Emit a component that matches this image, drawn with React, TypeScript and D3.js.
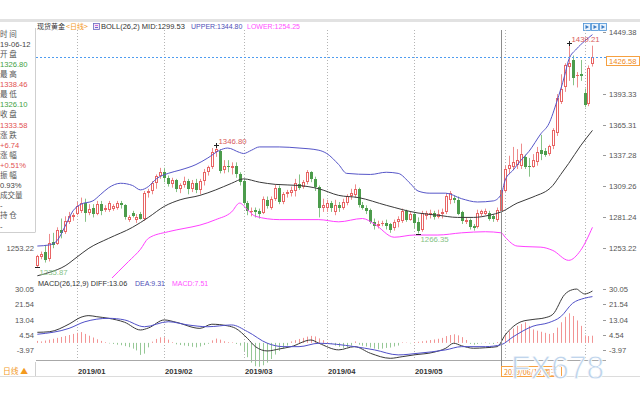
import React from "react";
import * as d3 from "d3";

// ---- candle data (index 0 = 2018-12-17 ... 140 = 2019-07-03) ----
const open = [
  1237, 1245.5, 1250, 1243, 1259, 1257, 1270, 1268, 1277, 1281,
  1284, 1287, 1294, 1285, 1290, 1284, 1293, 1288, 1288, 1289,
  1290, 1294, 1292, 1279, 1285, 1279, 1284, 1280, 1303, 1305,
  1312, 1319, 1322, 1317, 1311, 1315, 1307, 1310, 1314, 1307,
  1312, 1306, 1314, 1322, 1327, 1340, 1341, 1324, 1328, 1326,
  1328, 1320, 1314, 1294, 1286, 1288, 1287, 1285, 1297, 1290,
  1298, 1308, 1295, 1302, 1303, 1305, 1311, 1309, 1313, 1322,
  1316, 1309, 1290, 1290, 1294, 1286, 1292, 1290, 1294, 1300,
  1301, 1307, 1292, 1290, 1288, 1277, 1273, 1275, 1276, 1275,
  1271, 1277, 1278, 1287, 1279, 1284, 1277, 1270, 1282, 1283,
  1285, 1281, 1284, 1286, 1297, 1299, 1297, 1286, 1277, 1279,
  1273, 1272, 1284, 1284, 1285, 1282, 1279, 1287, 1305, 1325,
  1327, 1329, 1328, 1336, 1327.5, 1326.8, 1331, 1342, 1341, 1339,
  1346, 1358, 1386, 1399, 1418, 1424, 1409, 1411, 1394, 1384, 1420,
];
const high = [
  1247, 1250, 1256, 1266, 1267, 1272, 1280, 1282, 1286, 1285,
  1295, 1299, 1298, 1293, 1293, 1296, 1296, 1292, 1296, 1293,
  1296, 1296, 1293, 1283, 1287, 1284, 1286, 1305, 1307, 1314,
  1320, 1326, 1326, 1319, 1317, 1316, 1312, 1318, 1316, 1315,
  1316, 1316, 1325, 1328, 1344, 1346.8, 1343, 1333, 1333, 1331,
  1331, 1322, 1316, 1296, 1290, 1290, 1289, 1300, 1300, 1300,
  1311, 1310, 1304, 1306, 1309, 1316, 1320, 1315, 1324, 1323,
  1318, 1310, 1298, 1297, 1296, 1297, 1295, 1298, 1302, 1307,
  1311, 1308, 1295, 1292, 1289, 1280, 1278, 1278, 1279, 1276,
  1279, 1282, 1289, 1288, 1286, 1286, 1281, 1287, 1287, 1288,
  1287, 1288, 1289, 1303, 1305, 1301, 1300, 1287, 1281, 1280,
  1275, 1288, 1288, 1289, 1287, 1284, 1290, 1308, 1328, 1337,
  1345, 1343, 1348, 1338, 1335, 1338.46, 1345, 1356, 1344, 1347,
  1362, 1393, 1411, 1421, 1439.21, 1428, 1413, 1424, 1398, 1419, 1437,
];
const low = [
  1235.87, 1243, 1240, 1241, 1253, 1256, 1262, 1266, 1275, 1278,
  1283, 1285, 1277, 1283, 1281, 1283, 1283, 1286, 1286, 1287,
  1288, 1289, 1279, 1277, 1281, 1276, 1279, 1278, 1299, 1302,
  1307, 1316, 1313, 1309, 1308, 1304, 1303, 1308, 1302, 1304,
  1303, 1302, 1310, 1319, 1325, 1336, 1321, 1321, 1322, 1320,
  1317, 1310, 1292, 1283, 1282, 1281, 1280, 1284, 1289, 1288,
  1296, 1293, 1293, 1299, 1300, 1300, 1306, 1307, 1311, 1313,
  1305, 1281, 1286, 1286, 1286, 1283, 1286, 1288, 1292, 1297,
  1299, 1290, 1288, 1284, 1275, 1270, 1271, 1273, 1270, 1267,
  1269, 1272, 1276, 1277, 1278, 1271, 1266.35, 1268, 1279, 1280,
  1279, 1280, 1280, 1284, 1293, 1294, 1283, 1275, 1275, 1270,
  1269, 1271, 1282, 1283, 1278, 1277, 1277, 1284, 1304, 1320,
  1324, 1325, 1325, 1325, 1318, 1326.1, 1328, 1333, 1336, 1337,
  1343, 1355, 1384, 1395, 1405, 1401, 1399, 1405, 1381, 1382, 1418,
];
const close = [
  1246, 1248, 1242, 1258, 1256, 1270, 1267, 1278, 1282, 1283,
  1291, 1294, 1285, 1289, 1284, 1293, 1287, 1290, 1294, 1291,
  1294, 1292, 1281, 1281, 1282, 1281, 1280, 1303, 1305, 1312,
  1319, 1322, 1317, 1311, 1315, 1307, 1310, 1314, 1307, 1312,
  1306, 1314, 1322, 1327, 1340, 1343, 1323, 1328, 1327, 1328,
  1320, 1313, 1294, 1287, 1287, 1286, 1284, 1298, 1291, 1298,
  1308, 1295, 1302, 1304, 1306, 1312, 1308, 1313, 1322, 1316,
  1309, 1290, 1292, 1294, 1290, 1292, 1290, 1295, 1300, 1303,
  1307, 1292, 1290, 1287, 1277, 1273, 1275, 1276, 1273, 1270,
  1277, 1280, 1287, 1279, 1284, 1276, 1269, 1285, 1285, 1285,
  1281, 1284, 1286, 1300, 1303, 1297, 1284, 1278, 1279, 1272,
  1271, 1285, 1287, 1287, 1280, 1280, 1288, 1306, 1325, 1329,
  1331, 1333, 1339, 1327, 1326.8, 1333.58, 1340, 1339, 1338, 1346,
  1360, 1389, 1398, 1419, 1421, 1408, 1410, 1409, 1383, 1417, 1426.58,
];

// ---- BOLL(26,2) ----
const upperIdx = [0,3,5,7,9,11,14,16,18,21,24,26,28,30,33,36,40,43,46,48,51,52,54,56,61,66,71,73,76,78,84,88,91,94,96,99,103,107,111,115,117,118,120,122,124,127,129,131,133,134,136,138,140];
const upperVal = [1255,1256,1260,1273,1287,1293,1296,1302,1308,1312,1310,1306,1309,1316,1321,1324,1329,1335,1342,1344,1340,1339,1342,1345,1345,1344,1342,1339,1329,1321,1320,1322,1321,1312,1305,1303,1303,1298,1295,1296,1302,1315,1324,1333,1341,1357,1366,1386,1410,1424,1434,1441,1447];
const midIdx = [0,3,7,10,13,18,24,28,32,36,41,45,49,52,56,60,66,71,76,81,88,96,101,106,110,114,117,121,125,130,132,134,137,140];
const midVal = [1228,1231,1237,1245,1253,1262,1272,1281,1291,1297,1301,1306,1312,1316,1313,1311,1310,1307,1301,1299,1292,1285,1283,1281,1281,1283,1286,1294,1299.53,1310,1320,1330,1346,1360];
const lowerIdx = [0,8,14,18,23,26,28,33,37,41,45,49,51,53,55,61,71,76,82,85,90,95,101,107,113,117,118,121,125,127,130,134,137,140];
const lowerVal = [1201,1199,1208,1223,1241,1252,1262,1268,1271,1274,1279,1286,1294,1288,1282,1279,1279,1277,1280,1275,1263,1265,1265,1267,1268,1267,1263,1255,1254.25,1254,1251,1242,1251,1272];

// ---- MACD(26,12,9) ----
const diffIdx = [0,3,8,11,13,15,18,22,26,28,32,35,41,44,48,50,53,55,58,61,64,69,71,76,80,84,89,92,95,100,103,105,107,110,113,116,118,122,125,128,130,133,134,136,137,138,140];
const diffVal = [5.9,6.2,10.5,14.3,15.2,14.6,13.7,11.5,7.2,8.3,12.8,11.5,8.1,10.4,9.5,8.1,2.5,-2.1,-4.5,-3.4,-2.1,1.6,-0.2,-3.9,-2.1,-5.8,-8.6,-7.7,-6.7,-5.2,-3.0,-0.2,-1.6,-3.0,-2.7,-2.1,4.4,11.8,13.06,14.0,15.9,27.0,28.8,30.0,28.5,27.3,28.9];
const deaIdx = [0,8,12,18,22,27,33,38,43,49,53,58,62,66,71,80,85,91,96,103,107,113,117,120,125,129,132,135,138,140];
const deaVal = [4.8,8.1,11.8,13.7,12.8,9.0,11.8,10.0,9.0,10.0,6.3,-0.2,-2.1,-2.1,-0.2,-2.1,-3.9,-6.7,-5.8,-3.9,-2.1,-2.1,-1.0,3.4,9.31,11.3,14.6,22.1,24.9,25.8];
const macdHist = [
  1.1, 0.8, 1.3, 1.8, 2.3, 2.8, 3.3, 3.8, 4.4, 5.0,
  5.6, 6.0, 5.0, 4.0, 3.0, 2.0, 1.1, 0.4, -0.3, -0.6,
  -1.0, -1.3, -1.8, -2.4, -3.2, -4.2, -6.7, -6.0, -2.5, 0.7,
  2.2, 3.1, 3.1, 1.8, 0.4, -0.8, -1.2, -1.5, -1.8, -2.2,
  -2.5, -2.0, -1.2, -0.5, 1.4, 2.4, 1.8, 0.9, 0.4, 0.3,
  -0.6, -1.5, -4.5, -8.0, -11.0, -13.0, -13.3, -12.5, -11.0, -9.0,
  -6.5, -4.5, -3.0, -1.5, 0.8, 1.5, 2.2, 2.8, 3.5, 3.9,
  3.6, 2.5, 1.5, 0.5, -0.5, -1.5, -2.2, -2.8, -2.5, -1.5,
  0.8, -1.0, -1.6, -2.0, -2.6, -3.2, -3.5, -3.2, -2.8, -2.6,
  -2.0, -1.5, 0.3, 0.2, -0.3, 0.4, 0.6, 0.9, 1.2, 1.6,
  1.9, 2.3, 2.8, 3.8, 4.4, 4.8, 4.2, 3.2, 1.6, -0.6,
  -1.0, -0.6, -0.3, 0.3, -0.4, -0.6, 0.5, 1.8, 4.2, 6.5,
  8.0, 9.5, 10.5, 11.5, 9.5, 7.51, 6.8, 6.2, 5.6, 5.0,
  5.5, 8.5, 11.5, 14.5, 16.5, 15.0, 12.5, 9.5, 4.2, 3.8, 4.0,
];

// ---- axes / labels ----
const priceTicks = ["1449.38", "1393.33", "1365.31", "1337.28", "1309.26", "1281.24", "1253.22"];
const priceDomain = [1253.22, 1449.38];
const macdTicks = ["30.05", "21.54", "13.04", "4.54", "-3.97"];
const macdDomain = [-3.97, 30.05];
const monthIdx = [10, 32, 52, 73, 95, 118, 138];
const monthLabels = ["2019/01", "2019/02", "2019/03", "2019/04", "2019/05", "", ""];
const crossIdx = 117;
const lastPrice = 1426.58;
const infoNames = ["时 间", "开 盘", "最 高", "最 低", "收 盘", "涨 跌", "涨 幅", "振 幅", "成交量", "持 仓"];
const infoValues = ["19-06-12", "1326.80", "1338.46", "1326.10", "1333.58", "+6.74", "+0.51%", "0.93%", "-", "-"];
const infoColors = ["#444", "#3f9f3f", "#e25050", "#3f9f3f", "#e25050", "#e25050", "#e25050", "#444", "#444", "#444"];
const markIdx = [45, 134, 0, 96];
const markVal = [1346.8, 1439.21, 1235.87, 1266.35];
const markText = ["1346.80", "1439.21", "1235.87", "1266.35"];
const markIsHigh = [true, true, false, false];

const UP = "#e86464";
const UPWICK = "#ee8c8c";
const DN = "#4c9c4c";
const DNWICK = "#86c286";
const NUMFONT = "'Liberation Sans', Arial, sans-serif";
const CJK = "'Noto Sans CJK SC', sans-serif";

export default function App() {
  const xs = d3.scaleLinear().domain([0, 140]).range([37.35, 592.45]);
  const yP = d3.scaleLinear().domain(priceDomain).range([248, 32]);
  const yM = d3.scaleLinear().domain(macdDomain).range([350, 289]);
  const cx = (i: number) => Math.round(xs(i));

  const mkLine = (idx: number[], vals: number[], ys: d3.ScaleLinear<number, number>) =>
    d3
      .line<number>()
      .x((_, k) => xs(idx[k]))
      .y((v) => ys(v))
      .curve(d3.curveMonotoneX)(vals) || "";

  const candles = open.map((o, i) => {
    const c = close[i];
    const up = c >= o;
    const px = cx(i);
    const top = Math.round(yP(Math.max(o, c)));
    const bot = Math.round(yP(Math.min(o, c)));
    const hy = yP(high[i]);
    const ly = yP(low[i]);
    const h = Math.max(1, bot - top);
    return (
      <g key={i}>
        <line x1={px + 0.5} x2={px + 0.5} y1={hy} y2={ly} stroke={up ? UPWICK : DNWICK} strokeWidth={1} />
        {up ? (
          <rect x={px - 0.5} y={top + 0.5} width={2} height={Math.max(0.01, h - 1)} fill="#fff" stroke={UP} strokeWidth={1} />
        ) : (
          <rect x={px - 1} y={top} width={3} height={h} fill={DN} />
        )}
      </g>
    );
  });

  const zeroY = yM(0);
  const bars = macdHist.map((v, i) => {
    const px = cx(i) + 0.5;
    return <line key={i} x1={px} x2={px} y1={zeroY} y2={yM(v)} stroke={v >= 0 ? "#f29494" : "#96c896"} strokeWidth={1} />;
  });

  const lastY = yP(lastPrice);
  const crossX = Math.round(xs(crossIdx)) + 0.5;

  return (
    <svg width={640} height={400} style={{ position: "absolute", left: 0, top: 0, background: "#fff" }}>
      <defs>
        <clipPath id="mainClip">
          <rect x={36} y={30} width={568} height={248} />
        </clipPath>
        <clipPath id="macdClip">
          <rect x={36} y={287} width={568} height={82} />
        </clipPath>
      </defs>
      <rect x={0} y={0} width={640} height={400} fill="#fff" />
      {/* top band */}
      <rect x={0} y={19} width={640} height={3} fill="#e2e2e2" />

      {/* header */}
      <text x={37} y={29} fontFamily={CJK} fontSize={7} fill="#333">现货黄金</text>
      <text x={66} y={29} fontFamily={CJK} fontSize={7} fill="#f39a1e">&lt;日线&gt;</text>
      <rect x={93.5} y={23.5} width={6} height={6} fill="#f4e6f4" stroke="#6a6ac0" strokeWidth={0.8} />
      <line x1={95} x2={98} y1={25.5} y2={25.5} stroke="#d04ad0" strokeWidth={0.8} />
      <line x1={95} x2={98} y1={27.5} y2={27.5} stroke="#4a4ad0" strokeWidth={0.8} />
      <text x={101} y={29} fontFamily={NUMFONT} fontSize={7.5} fill="#333">BOLL(26,2) MID:1299.53</text>
      <text x={191} y={29} fontFamily={NUMFONT} fontSize={7} fill="#5050b8">UPPER:1344.80</text>
      <text x={247} y={29} fontFamily={NUMFONT} fontSize={7} fill="#ff50ff">LOWER:1254.25</text>

      {/* top-right icons */}
      {[0, 1, 2].map((k) => (
        <g key={k}>
          <rect x={583.5 + k * 8} y={23.5} width={7} height={7} fill="#e8f2fc" stroke="#4a92d6" strokeWidth={0.8} />
          <path d={`M${585.5 + k * 8},25 L${589 + k * 8},27 L${585.5 + k * 8},29 Z`} fill="#3a7cc4" />
        </g>
      ))}

      {/* info panel */}
      <line x1={35.5} x2={35.5} y1={28} y2={232} stroke="#cfcfcf" />
      <line x1={0} x2={35.5} y1={232.5} y2={232.5} stroke="#cfcfcf" />
      {infoNames.map((n, k) => (
        <g key={k}>
          <text x={0} y={36.5 + k * 20.2} fontFamily={CJK} fontSize={7.5} fill="#555">{n}</text>
          <text x={0} y={46.8 + k * 20.2} fontFamily={NUMFONT} fontSize={7.6} fill={infoColors[k]}>{infoValues[k]}</text>
        </g>
      ))}

      {/* vertical month grid */}
      {monthIdx.map((m, k) => {
        const gx = Math.round(xs(m)) + 0.5;
        return <line key={k} x1={gx} x2={gx} y1={30} y2={362} stroke="#b4b4b4" strokeDasharray="1,2" />;
      })}

      {/* main panel */}
      <g clipPath="url(#mainClip)">
        {candles}
        <path d={mkLine(upperIdx, upperVal, yP)} fill="none" stroke="#5656c8" strokeWidth={1} />
        <path d={mkLine(midIdx, midVal, yP)} fill="none" stroke="#3a3a3a" strokeWidth={1} />
        <path d={mkLine(lowerIdx, lowerVal, yP)} fill="none" stroke="#ff40ff" strokeWidth={1} />
      </g>
      {/* high / low marks */}
      {markIdx.map((m, k) => {
        const px = cx(m) + 0.5;
        const py = Math.round(yP(markVal[k])) + 0.5;
        return (
          <g key={k}>
            <line x1={px - 2.5} x2={px + 2.5} y1={py} y2={py} stroke="#222" />
            {markIsHigh[k] && <line x1={px} x2={px} y1={py - 2.5} y2={py + 2.5} stroke="#222" />}
            <text
              x={px + 2}
              y={markIsHigh[k] ? py - 2 : py + 7}
              fontFamily={NUMFONT}
              fontSize={7.8}
              fill={markIsHigh[k] ? "#d85c5c" : "#86c286"}
            >
              {markText[k]}
            </text>
          </g>
        );
      })}

      {/* last price */}
      <line x1={36} x2={606} y1={Math.round(lastY) + 0.5} y2={Math.round(lastY) + 0.5} stroke="#4f9cf0" strokeDasharray="2,2" />
      <rect x={606.5} y={56.5} width={33} height={9} fill="#fff" stroke="#f6a040" strokeWidth={1} />
      <text x={609} y={64} fontFamily={NUMFONT} fontSize={7.6} fill="#f08a20">{lastPrice.toFixed(2)}</text>

      {/* price axis */}
      {priceTicks.map((t, k) => {
        const py = yP(+t);
        return (
          <g key={k}>
            <line x1={603} x2={606} y1={Math.round(py) + 0.5} y2={Math.round(py) + 0.5} stroke="#999" />
            <text x={609} y={py + 3} fontFamily={NUMFONT} fontSize={7.6} fill="#555">{t}</text>
          </g>
        );
      })}
      <text x={34} y={yP(1253.22) + 3} textAnchor="end" fontFamily={NUMFONT} fontSize={7.6} fill="#555">1253.22</text>

      {/* MACD panel */}
      <text x={38} y={286} fontFamily={NUMFONT} fontSize={7.3} fill="#333">MACD(26,12,9) DIFF:13.06</text>
      <text x={135} y={286} fontFamily={NUMFONT} fontSize={7} fill="#5050b8">DEA:9.31</text>
      <text x={172} y={286} fontFamily={NUMFONT} fontSize={7} fill="#ff50ff">MACD:7.51</text>
      <g>{bars}</g>
      <g clipPath="url(#macdClip)">
        <path d={mkLine(diffIdx, diffVal, yM)} fill="none" stroke="#3a3a3a" strokeWidth={1} />
        <path d={mkLine(deaIdx, deaVal, yM)} fill="none" stroke="#5050c8" strokeWidth={1} />
      </g>
      {macdTicks.map((t, k) => {
        const py = yM(+t);
        return (
          <g key={k}>
            <text x={34} y={py + 3} textAnchor="end" fontFamily={NUMFONT} fontSize={7.6} fill="#555">{t}</text>
            <line x1={603} x2={606} y1={Math.round(py) + 0.5} y2={Math.round(py) + 0.5} stroke="#999" />
            <text x={609} y={py + 3} fontFamily={NUMFONT} fontSize={7.6} fill="#555">{t}</text>
          </g>
        );
      })}
      <line x1={36} x2={606} y1={360.5} y2={360.5} stroke="#a8a8a8" />

      {/* crosshair */}
      <line x1={crossX} x2={crossX} y1={30} y2={366} stroke="#8c8c8c" strokeWidth={1} />

      {/* date axis */}
      {monthIdx.map((m, k) =>
        monthLabels[k] ? (
          <text key={k} x={Math.round(xs(m)) + 1} y={374} fontFamily={NUMFONT} fontSize={7.6} fontWeight="bold" fill="#333">
            {monthLabels[k]}
          </text>
        ) : null
      )}
      <line x1={0} x2={640} y1={376.5} y2={376.5} stroke="#dcdcdc" />
      <line x1={35.5} x2={35.5} y1={362} y2={376} stroke="#cfcfcf" />
      <text x={3} y={374} fontFamily={CJK} fontSize={7.8} fill="#f39a1e">日线 ▲</text>
      <rect x={501.5} y={366.5} width={60} height={10} fill="#fff" stroke="#f6a040" />
      <text x={504} y={374.5} fontFamily={CJK} fontSize={7.2} fill="#f08a20">2019/06/12 周三</text>

      {/* watermark */}
      <text
        x={511}
        y={379}
        fontFamily={NUMFONT}
        fontSize={34}
        fill="#b8d0ea"
        fillOpacity={0.9}
        stroke="#ffffff"
        strokeWidth={0.8}
        textLength={93}
        lengthAdjust="spacingAndGlyphs"
      >
        FX678
      </text>
    </svg>
  );
}
